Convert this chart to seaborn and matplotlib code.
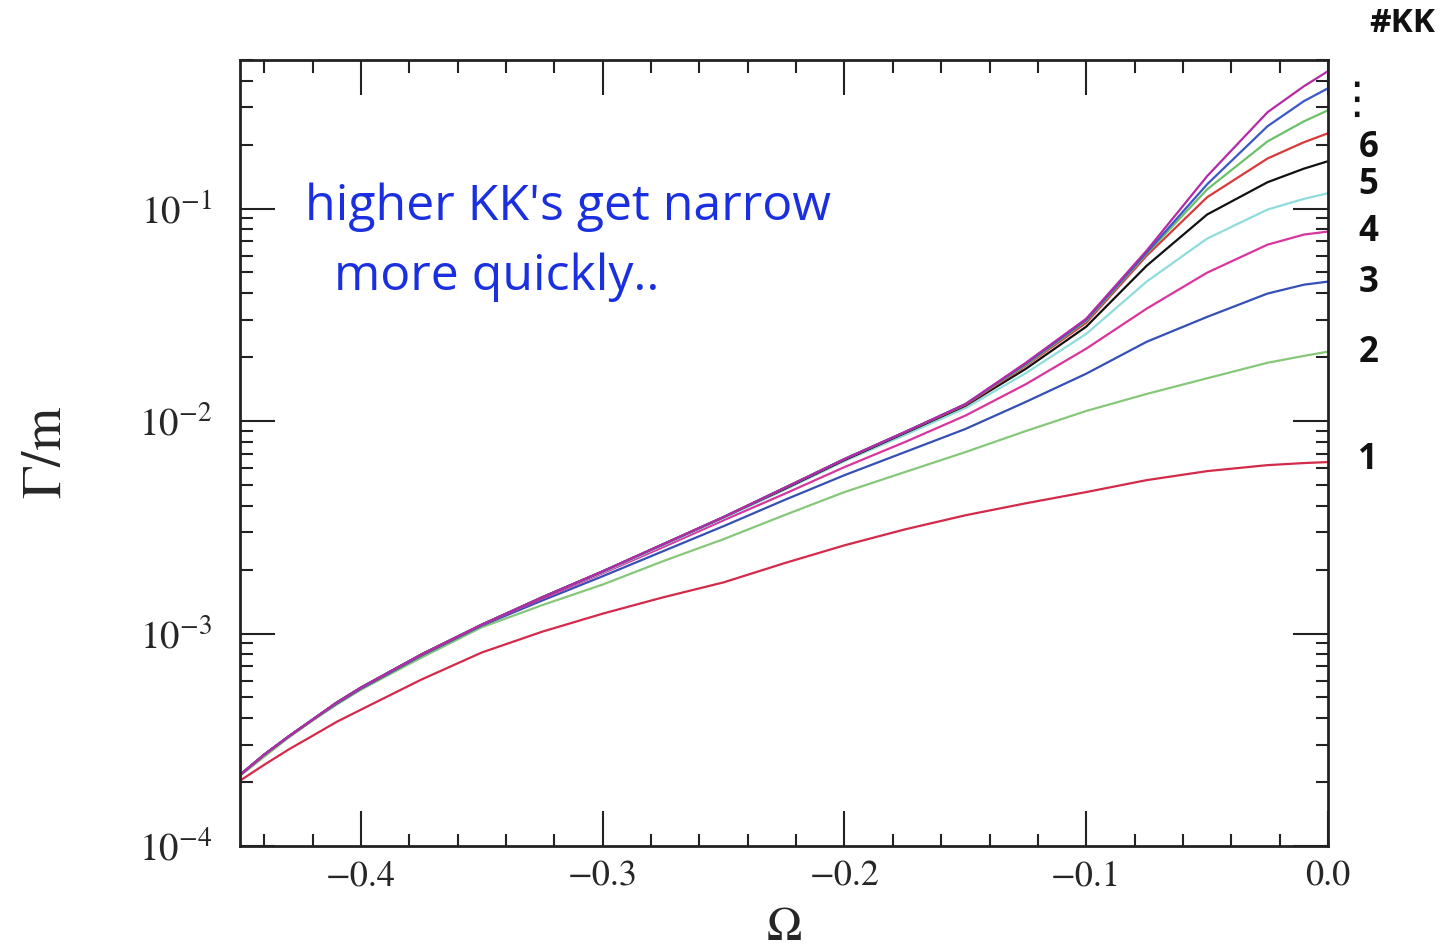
import numpy as np
import pandas as pd
import matplotlib
matplotlib.use("Agg")
import matplotlib.pyplot as plt
from matplotlib.ticker import MultipleLocator, LogLocator, FuncFormatter, LogFormatterMathtext, NullFormatter
import seaborn as sns

# Decay width over mass, Gamma/m, versus Omega for the first ten KK modes
omega = [-0.45, -0.44, -0.43, -0.42, -0.41, -0.40, -0.375, -0.35, -0.325, -0.30, -0.275, -0.25,
         -0.225, -0.20, -0.175, -0.15, -0.125, -0.10, -0.075, -0.05, -0.025, -0.01, 0.0]

kk1 = [2.03e-4, 2.41e-4, 2.84e-4, 3.30e-4, 3.84e-4, 4.38e-4, 6.07e-4, 8.14e-4, 1.02e-3, 1.24e-3, 1.48e-3, 1.74e-3,
       2.14e-3, 2.60e-3, 3.09e-3, 3.60e-3, 4.10e-3, 4.63e-3, 5.27e-3, 5.81e-3, 6.20e-3, 6.34e-3, 6.41e-3]
kk2 = [2.14e-4, 2.63e-4, 3.23e-4, 3.89e-4, 4.63e-4, 5.44e-4, 7.70e-4, 1.07e-3, 1.36e-3, 1.70e-3, 2.19e-3, 2.78e-3,
       3.60e-3, 4.63e-3, 5.75e-3, 7.14e-3, 8.97e-3, 0.01115, 0.01341, 0.01589, 0.0188, 0.02025, 0.0212]
kk3 = [2.16e-4, 2.69e-4, 3.27e-4, 3.93e-4, 4.68e-4, 5.50e-4, 7.87e-4, 1.09e-3, 1.43e-3, 1.86e-3, 2.44e-3, 3.20e-3,
       4.24e-3, 5.56e-3, 7.14e-3, 9.17e-3, 0.0123, 0.0167, 0.0236, 0.0309, 0.0398, 0.0438, 0.0453]
kk4 = [2.16e-4, 2.69e-4, 3.27e-4, 3.93e-4, 4.73e-4, 5.56e-4, 7.96e-4, 1.10e-3, 1.46e-3, 1.92e-3, 2.55e-3, 3.41e-3,
       4.53e-3, 6.07e-3, 7.96e-3, 0.0106, 0.0149, 0.0219, 0.0338, 0.0499, 0.0676, 0.0754, 0.0779]
kk5 = [2.16e-4, 2.69e-4, 3.27e-4, 3.93e-4, 4.73e-4, 5.56e-4, 7.96e-4, 1.10e-3, 1.48e-3, 1.94e-3, 2.60e-3, 3.49e-3,
       4.73e-3, 6.48e-3, 8.59e-3, 0.0115, 0.0168, 0.0257, 0.0453, 0.0722, 0.0989, 0.111, 0.118]
kk6 = [2.16e-4, 2.69e-4, 3.27e-4, 3.93e-4, 4.73e-4, 5.56e-4, 7.96e-4, 1.10e-3, 1.48e-3, 1.96e-3, 2.63e-3, 3.53e-3,
       4.78e-3, 6.55e-3, 8.78e-3, 0.0118, 0.0176, 0.0278, 0.0538, 0.0937, 0.133, 0.154, 0.167]
kk7 = [2.16e-4, 2.69e-4, 3.27e-4, 3.93e-4, 4.73e-4, 5.56e-4, 7.96e-4, 1.10e-3, 1.48e-3, 1.96e-3, 2.63e-3, 3.53e-3,
       4.83e-3, 6.62e-3, 8.87e-3, 0.0119, 0.0182, 0.0290, 0.0600, 0.113, 0.172, 0.205, 0.226]
kk8 = [2.16e-4, 2.69e-4, 3.27e-4, 3.93e-4, 4.73e-4, 5.56e-4, 7.96e-4, 1.10e-3, 1.48e-3, 1.96e-3, 2.63e-3, 3.53e-3,
       4.83e-3, 6.62e-3, 8.87e-3, 0.0120, 0.0184, 0.0296, 0.0613, 0.123, 0.207, 0.257, 0.290]
kk9 = [2.16e-4, 2.69e-4, 3.27e-4, 3.93e-4, 4.73e-4, 5.56e-4, 7.96e-4, 1.10e-3, 1.48e-3, 1.96e-3, 2.63e-3, 3.53e-3,
       4.83e-3, 6.62e-3, 8.87e-3, 0.0120, 0.0186, 0.0299, 0.0620, 0.130, 0.244, 0.320, 0.368]
kk10 = [2.16e-4, 2.69e-4, 3.27e-4, 3.93e-4, 4.73e-4, 5.56e-4, 7.96e-4, 1.10e-3, 1.48e-3, 1.96e-3, 2.63e-3, 3.53e-3,
        4.83e-3, 6.62e-3, 8.87e-3, 0.0120, 0.0188, 0.0303, 0.0634, 0.142, 0.284, 0.376, 0.443]

modes = [kk1, kk2, kk3, kk4, kk5, kk6, kk7, kk8, kk9, kk10]
mode_labels = ["1", "2", "3", "4", "5", "6"]

colors = ["#d42a4a", "#86c77a", "#3550b5", "#d8359e", "#8fdcdc",
          "#111111", "#d83a3a", "#6cc06a", "#3a58c8", "#b52aa5"]

rows = []
for n, vals in enumerate(modes, start=1):
    for x, g in zip(omega, vals):
        rows.append({"omega": x, "gamma": g, "kk": n})
df = pd.DataFrame(rows)

sns.set_theme(style="ticks")
plt.rcParams["font.family"] = ["STIXGeneral", "DejaVu Serif"]
plt.rcParams["mathtext.fontset"] = "stix"

fig = plt.figure(figsize=(14.45, 9.52), dpi=100)
ax = fig.add_axes([240 / 1445, 1 - 846 / 952, 1088 / 1445, 786 / 952])

sns.lineplot(data=df, x="omega", y="gamma", hue="kk", palette=colors,
             legend=False, ax=ax, linewidth=1.6, sort=True)

ax.set_yscale("log")
ax.set_xlim(-0.45, 0.0)
ax.set_ylim(1e-4, 0.5)

ax.xaxis.set_major_locator(MultipleLocator(0.1))
ax.xaxis.set_minor_locator(MultipleLocator(0.02))
ax.xaxis.set_major_formatter(FuncFormatter(
    lambda v, p: f"{v:.1f}".replace("-", "\u2212") if abs(v) > 1e-9 else "0.0"))
ax.yaxis.set_major_locator(LogLocator(base=10))
ax.yaxis.set_minor_locator(LogLocator(base=10, subs=np.arange(2, 10), numticks=20))
ax.yaxis.set_major_formatter(LogFormatterMathtext())
ax.yaxis.set_minor_formatter(NullFormatter())

ax.tick_params(which="both", direction="in", top=True, right=True, color="#222222")
ax.tick_params(which="major", length=25, width=1.5)
ax.tick_params(which="minor", length=9, width=1.5)
ax.tick_params(axis="x", which="major", labelsize=26, pad=10)
ax.tick_params(axis="y", which="major", labelsize=28, pad=20)
for s in ax.spines.values():
    s.set_linewidth(2.0)
    s.set_color("#222222")

ax.set_xlabel(r"$\Omega$", fontsize=34, labelpad=10)
ax.set_ylabel(r"$\Gamma/\mathrm{m}$", fontsize=40, labelpad=48)

# handwritten-style note
note_kw = dict(color="#1a2fe0", fontsize=36, family=["Open Sans", "DejaVu Sans"], transform=ax.transAxes)
ax.text(0.060, 0.813, "higher KK's get narrow", ha="left", va="center", **note_kw)
ax.text(0.086, 0.724, "more quickly..", ha="left", va="center", **note_kw)

# mode numbers beside the curve ends
label_y = [0.491, 0.627, 0.716, 0.781, 0.841, 0.888]
lab_kw = dict(color="#111111", fontsize=25, fontweight="bold", family=["Open Sans", "DejaVu Sans"],
              transform=ax.transAxes, ha="center", va="center")
for lab, yy in zip(mode_labels, label_y):
    ax.text(1.037, yy, lab, **lab_kw)
ax.text(1.026, 0.948, "\u22ee", color="#111111", fontsize=32, family=["DejaVu Sans"],
        transform=ax.transAxes, ha="center", va="center")
ax.text(1.068, 1.046, "#KK", color="#111111", fontsize=24, fontweight="bold",
        family=["Open Sans", "DejaVu Sans"], transform=ax.transAxes, ha="center", va="center")

fig.savefig("out.png", dpi=100, facecolor="white")
